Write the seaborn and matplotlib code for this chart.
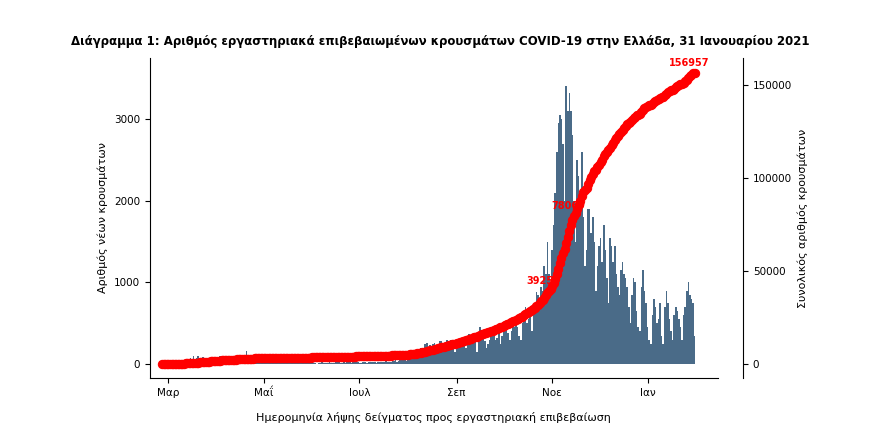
import numpy as np
import pandas as pd
import matplotlib
matplotlib.use("Agg")
import matplotlib.pyplot as plt
import matplotlib.dates as mdates
import seaborn as sns

start_date = "2020-02-26"
feb = [1, 1, 1, 0]
mar = [3,1,2,4,10,25,12,15,20,19,34,45,30,50,70,40,100,60,80,95,70,80,90,60,80,70,60,90,80,60,70]
apr = [80,70,100,60,60,70,60,50,60,50,40,60,30,40,25,20,30,60,40,156,60,40,30,50,20,15,30,20,15,40]
may = [20,15,10,15,10,12,10,8,15,10,10,15,8,10,20,15,10,8,15,20,10,15,10,12,15,10,10,12,15,18,10]
jun = [20,10,15,5,10,15,20,10,12,10,15,97,15,10,10,20,25,30,15,12,20,15,30,20,25,15,20,30,25,20]
jul = [10,15,20,25,20,15,20,25,30,25,20,15,25,30,20,25,30,35,25,30,30,40,35,45,30,40,45,55,50,60,40]
aug = [75,60,110,120,100,120,150,130,200,150,100,250,260,200,230,210,250,260,230,150,280,280,250,200,180,290,250,300,220,250,150]
sep = [180,200,250,280,300,250,200,280,370,300,340,360,300,150,300,450,350,380,280,200,250,300,350,360,400,300,320,440,250,350]
oct_ = [400,420,450,380,300,400,500,450,550,450,350,300,500,600,700,500,550,650,400,600,750,880,850,700,950,900,1200,1100,1500,1100,900]
nov = [1400,1700,2100,2600,2950,3050,3000,2700,2000,3400,3100,3316,3100,2800,2000,1500,2500,2300,2000,2600,1800,1200,1400,1900,1900,1600,1800,1500,900,1200]
dec = [1450,1550,1250,1700,1400,1050,750,1550,1450,1250,1450,1100,950,850,1150,1250,1100,1050,950,700,500,850,1050,1000,650,450,400,950,1150,900,750]
jan = [450,300,250,600,800,700,500,550,750,350,250,700,900,750,550,400,300,600,700,650,550,450,300,600,700,900,1000,850,800,750,350]
cum_labels = ["39251", "78069", "156957"]

daily = feb + mar + apr + may + jun + jul + aug + sep + oct_ + nov + dec + jan
dates = pd.date_range(start_date, periods=len(daily), freq="D")
df = pd.DataFrame({"date": dates, "new": daily})
df["cum"] = df["new"].cumsum()

fig = plt.figure(figsize=(8.8, 4.38), dpi=100)
ax = fig.add_axes([0.17, 0.137, 0.646, 0.731])
ax.bar(df["date"], df["new"], width=1.0, color="#4a6b88", edgecolor="none")
sns.despine(ax=ax, top=True, right=True)
ax.set_ylim(-170, 3750)
ax.set_yticks([0, 1000, 2000, 3000])
ax.set_ylabel("Αριθμός νέων κρουσμάτων", fontsize=8)
ax.set_xlabel("Ημερομηνία λήψης δείγματος προς εργαστηριακή επιβεβαίωση", fontsize=8, labelpad=10)
greek = {3: "Μαρ", 5: "Μαΐ", 7: "Ιουλ", 9: "Σεπ", 11: "Νοε", 1: "Ιαν"}
ticks = [pd.Timestamp(t) for t in ["2020-03-01", "2020-05-01", "2020-07-01", "2020-09-01", "2020-11-01", "2021-01-01"]]
ax.set_xticks(ticks)
ax.set_xticklabels([greek[t.month] for t in ticks])
ax.set_xlim(pd.Timestamp("2020-02-18"), pd.Timestamp("2021-02-15"))
ax.tick_params(labelsize=7.5)

ax2 = ax.twinx()
sns.lineplot(data=df, x="date", y="cum", ax=ax2, color="red", linewidth=4,
             marker="o", markersize=6, markeredgecolor="red")
ax2.set_ylim(-7600, 164500)
ax2.set_yticks([0, 50000, 100000, 150000])
ax2.set_ylabel("Συνολικός αριθμός κρουσμάτων", fontsize=8)
ax2.tick_params(labelsize=7.5)
for s in ["top", "left", "bottom"]:
    ax2.spines[s].set_visible(False)
ax2.spines["right"].set_position(("outward", 18))
for lab in cum_labels:
    v = int(lab)
    idx = min(int(np.searchsorted(df["cum"].values, v)), len(df) - 1)
    d = df["date"].iloc[idx]
    y = df["cum"].iloc[idx]
    ax2.annotate(lab, (d, y), xytext=(-4, 5), textcoords="offset points",
                 color="red", fontsize=7, fontweight="bold", ha="center")
fig.suptitle("Διάγραμμα 1: Αριθμός εργαστηριακά επιβεβαιωμένων κρουσμάτων COVID-19 στην Ελλάδα, 31 Ιανουαρίου 2021",
             fontsize=8.5, fontweight="bold", y=0.92)
fig.savefig("out.png", dpi=100)
